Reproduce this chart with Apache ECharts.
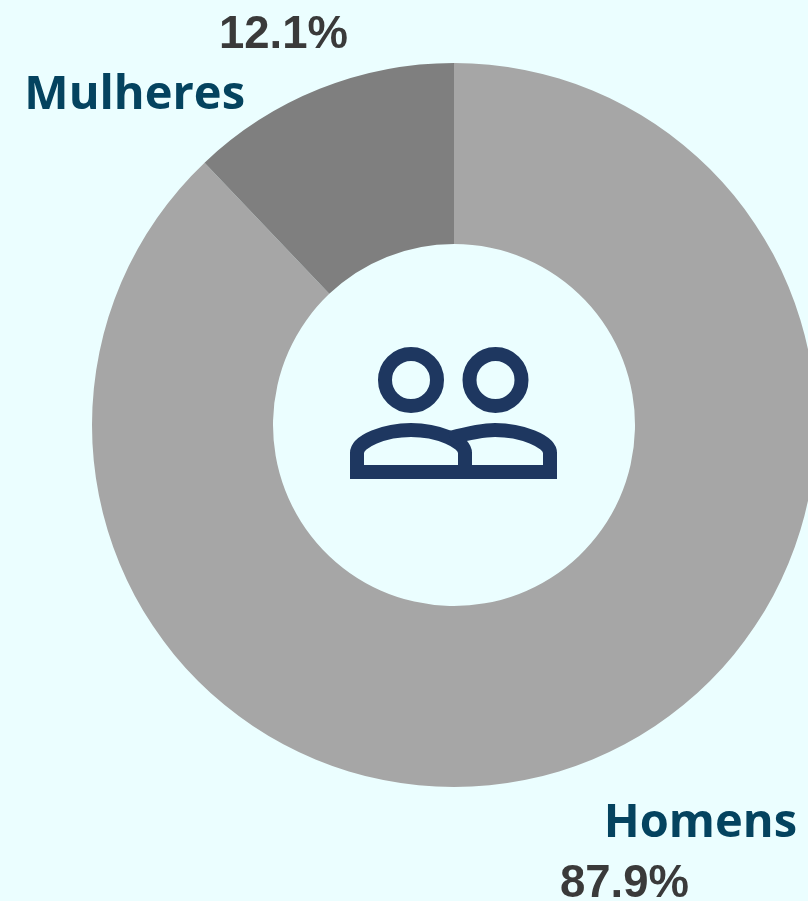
<!DOCTYPE html>
<html><head><meta charset="utf-8">
<style>html,body{margin:0;padding:0;background:#ebfeff}#c{width:808px;height:901px}</style>
<script src="https://cdn.jsdelivr.net/npm/echarts@6/dist/echarts.min.js"></script>
</head><body><div id="c"></div>
<script>
const categories = ['Homens', 'Mulheres'];
const shares = [87.9, 12.1];
const sliceColors = ['#a6a6a6', '#7f7f7f'];
const nameAnchors = [[797, 824], [245, 96]];
const valueAnchors = [[689, 884], [348, 35]];

const chart = echarts.init(document.getElementById('c'), null, {renderer: 'canvas'});
const data = categories.map((n, i) => ({name: n, value: shares[i], itemStyle: {color: sliceColors[i]}}));
const base = {type: 'pie', center: [454, 425], radius: [181, 362], startAngle: 90, clockwise: true,
  animation: false, silent: true, avoidLabelOverlap: false, labelLine: {show: false}};
const ink = {fill: 'none', stroke: '#1e3760', lineWidth: 14};
const curve = (x1, y1, cpx1, cpy1, cpx2, cpy2, x2, y2) =>
  ({type: 'bezierCurve', shape: {x1, y1, cpx1, cpy1, cpx2, cpy2, x2, y2}, style: Object.assign({lineCap: 'butt'}, ink)});
const poly = pts => ({type: 'polyline', shape: {points: pts}, style: Object.assign({lineJoin: 'miter', lineCap: 'butt'}, ink)});
chart.setOption({
  backgroundColor: '#ebfeff',
  series: [
    Object.assign({}, base, {
      data,
      label: {show: true, formatter: '{b}', fontFamily: 'Open Sans', fontWeight: 'bold', fontSize: 47, color: '#04435f'},
      labelLayout: p => ({x: nameAnchors[p.dataIndex][0], y: nameAnchors[p.dataIndex][1], align: 'right', verticalAlign: 'middle'})
    }),
    Object.assign({}, base, {
      data: data.map(d => ({name: d.name, value: d.value, itemStyle: {color: 'transparent'}})),
      label: {show: true, formatter: p => p.value.toFixed(1) + '%', fontFamily: 'Liberation Sans', fontWeight: 'bold', fontSize: 45.5, color: '#3a3a3a'},
      labelLayout: p => ({x: valueAnchors[p.dataIndex][0], y: valueAnchors[p.dataIndex][1], align: 'right', verticalAlign: 'middle'})
    })
  ],
  graphic: [
    {type: 'circle', shape: {cx: 411, cy: 380, r: 26}, style: ink},
    {type: 'circle', shape: {cx: 495.5, cy: 380, r: 26}, style: ink},
    poly([[357, 452], [357, 472], [550, 472], [550, 452]]),
    poly([[465, 472], [465, 452]]),
    curve(357, 453, 357, 441, 385, 430, 411, 430),
    curve(411, 430, 437, 430, 465, 441, 465, 453),
    curve(450, 438, 465, 434, 480, 430, 495, 430),
    curve(495, 430, 521, 430, 550, 441, 550, 453)
  ]
});
</script></body></html>
